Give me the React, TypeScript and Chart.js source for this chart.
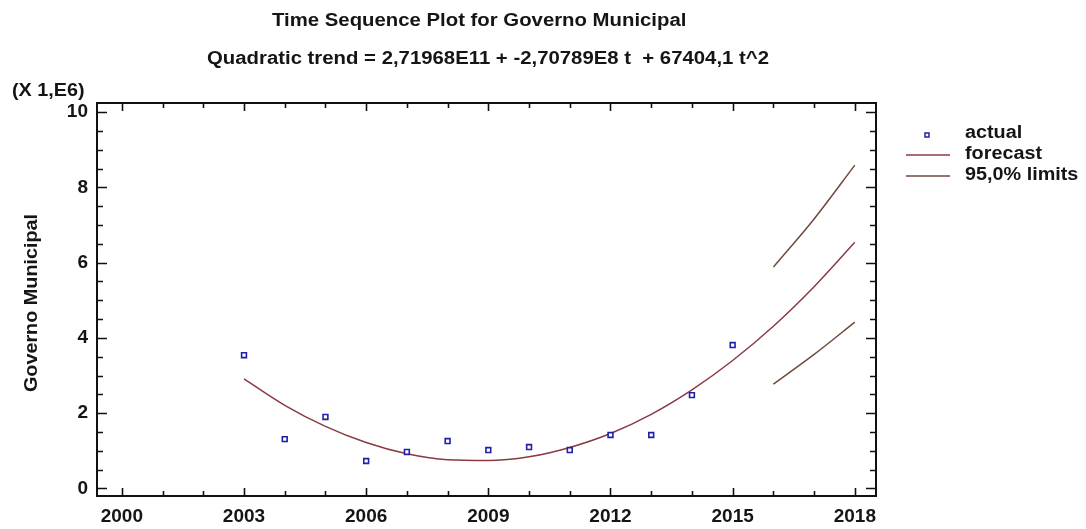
import React, { useEffect, useRef } from 'react';
import { Chart, registerables } from 'chart.js';

Chart.register(...registerables);

// ---- data (values in units of 1E6) ----
const actualYears = [2003, 2004, 2005, 2006, 2007, 2008, 2009, 2010, 2011, 2012, 2013, 2014, 2015];
const actualValues = [3.54, 1.31, 1.9, 0.73, 0.97, 1.26, 1.02, 1.1, 1.02, 1.42, 1.42, 2.48, 3.81];
const forecastYears = [2003, 2004, 2005, 2006, 2007, 2008, 2009, 2010, 2011, 2012, 2013, 2014, 2015, 2016, 2017, 2018];
const forecastValues = [2.91, 2.21, 1.65, 1.22, 0.92, 0.76, 0.74, 0.84, 1.09, 1.46, 1.97, 2.62, 3.4, 4.31, 5.36, 6.54];
const limitYears = [2016, 2017, 2018];
const upperLimit = [5.88, 7.16, 8.59];
const lowerLimit = [2.77, 3.56, 4.42];
const xTickLabels = [2000, 2003, 2006, 2009, 2012, 2015, 2018];
const yTickLabels = [0, 2, 4, 6, 8, 10];
const titleLines = [
  'Time Sequence Plot for Governo Municipal',
  'Quadratic trend = 2,71968E11 + -2,70789E8 t  + 67404,1 t^2',
];
const yAxisTitle = 'Governo Municipal';
const multiplierLabel = '(X 1,E6)';
const legendLabels = ['actual', 'forecast', '95,0% limits'];

const FONT = '"Liberation Sans", Arial, sans-serif';
const TEXT = '#151515';
const BLUE = '#1f1fa8';
const FORECAST_COLOR = '#8a3a44';
const LIMIT_COLOR = '#6f4a3c';

function stretchText(ctx: CanvasRenderingContext2D, text: string, x: number, y: number, sx: number, align: CanvasTextAlign) {
  ctx.save();
  ctx.translate(x, y);
  ctx.scale(sx, 1);
  ctx.textAlign = align;
  ctx.fillText(text, 0, 0);
  ctx.restore();
}

const decorPlugin = {
  id: 'decor',
  afterDraw(chart: any) {
    const { ctx, chartArea: a, scales } = chart;
    const xs = scales.x;
    const ys = scales.y;
    ctx.save();
    // frame
    ctx.strokeStyle = '#111';
    ctx.lineWidth = 2;
    ctx.strokeRect(a.left, a.top, a.right - a.left, a.bottom - a.top);
    // inward ticks
    ctx.lineWidth = 1.6;
    ctx.beginPath();
    const x0 = xTickLabels[0];
    const x1 = xTickLabels[xTickLabels.length - 1];
    for (let yr = x0; yr <= x1; yr++) {
      const px = Math.round(xs.getPixelForValue(yr)) + 0.5;
      const len = (yr - x0) % 3 === 0 ? 8 : 5;
      ctx.moveTo(px, a.bottom);
      ctx.lineTo(px, a.bottom - len);
      ctx.moveTo(px, a.top);
      ctx.lineTo(px, a.top + len);
    }
    const y0 = yTickLabels[0];
    const y1 = yTickLabels[yTickLabels.length - 1];
    for (let v = y0; v <= y1 + 1e-9; v += 0.5) {
      const py = Math.round(ys.getPixelForValue(v)) + 0.5;
      const major = Math.abs(v / 2 - Math.round(v / 2)) < 1e-9;
      const len = major ? 10 : 6;
      ctx.moveTo(a.left, py);
      ctx.lineTo(a.left + len, py);
      ctx.moveTo(a.right, py);
      ctx.lineTo(a.right - len, py);
    }
    ctx.stroke();

    // titles
    ctx.fillStyle = TEXT;
    ctx.textBaseline = 'middle';
    ctx.font = `bold 18px ${FONT}`;
    stretchText(ctx, titleLines[0], 272, 21, 1.13, 'left');
    stretchText(ctx, titleLines[1], 207, 59, 1.13, 'left');

    // multiplier
    stretchText(ctx, multiplierLabel, 12, 91, 1.1, 'left');

    // y axis title
    ctx.save();
    ctx.translate(32, 303);
    ctx.rotate(-Math.PI / 2);
    ctx.scale(1.1, 1);
    ctx.textAlign = 'center';
    ctx.fillText(yAxisTitle, 0, 0);
    ctx.restore();

    // legend
    const ly = [133, 154, 175];
    ctx.font = `bold 18px ${FONT}`;
    legendLabels.forEach((l, i) => stretchText(ctx, l, 965, ly[i], 1.1, 'left'));
    ctx.strokeStyle = BLUE;
    ctx.lineWidth = 1.5;
    ctx.strokeRect(925, ly[0], 4, 4);
    ctx.strokeStyle = FORECAST_COLOR;
    ctx.beginPath();
    ctx.moveTo(906, ly[1] + 1);
    ctx.lineTo(950, ly[1] + 1);
    ctx.stroke();
    ctx.strokeStyle = LIMIT_COLOR;
    ctx.beginPath();
    ctx.moveTo(906, ly[2] + 1);
    ctx.lineTo(950, ly[2] + 1);
    ctx.stroke();
    ctx.restore();
  },
};

export default function App() {
  const ref = useRef<HTMLCanvasElement | null>(null);
  useEffect(() => {
    document.body.style.margin = '0';
    const canvas = ref.current;
    if (!canvas) return;
    const pts = (xs: number[], ys: number[]) => xs.map((x, i) => ({ x, y: ys[i] }));
    const chart = new Chart(canvas, {
      type: 'line',
      data: {
        datasets: [
          {
            label: 'actual',
            data: pts(actualYears, actualValues),
            showLine: false,
            pointStyle: 'rect',
            pointRadius: 3.4,
            pointBorderWidth: 1.6,
            pointBorderColor: BLUE,
            pointBackgroundColor: '#ffffff',
          },
          {
            label: 'forecast',
            data: pts(forecastYears, forecastValues),
            borderColor: FORECAST_COLOR,
            borderWidth: 1.5,
            pointRadius: 0,
            cubicInterpolationMode: 'monotone',
          },
          {
            label: 'upper',
            data: pts(limitYears, upperLimit),
            borderColor: LIMIT_COLOR,
            borderWidth: 1.5,
            pointRadius: 0,
            cubicInterpolationMode: 'monotone',
          },
          {
            label: 'lower',
            data: pts(limitYears, lowerLimit),
            borderColor: LIMIT_COLOR,
            borderWidth: 1.5,
            pointRadius: 0,
            cubicInterpolationMode: 'monotone',
          },
        ],
      } as any,
      options: {
        animation: false,
        responsive: false,
        layout: { padding: { top: 103, right: 210, left: 0, bottom: 0 } },
        plugins: { legend: { display: false }, title: { display: false }, tooltip: { enabled: false } },
        scales: {
          x: {
            type: 'linear',
            min: 1999.39,
            max: 2018.52,
            grid: { display: false, drawTicks: false },
            border: { display: false },
            afterBuildTicks: (s: any) => {
              s.ticks = xTickLabels.map((v) => ({ value: v }));
            },
            afterFit: (s: any) => {
              s.height = 33;
            },
            ticks: {
              autoSkip: false,
              maxRotation: 0,
              padding: 9,
              color: TEXT,
              font: { family: FONT, size: 19, weight: 'bold' },
              callback: (v: any) => String(v),
            },
          },
          y: {
            type: 'linear',
            min: -0.2,
            max: 10.24,
            grid: { display: false, drawTicks: false },
            border: { display: false },
            afterBuildTicks: (s: any) => {
              s.ticks = yTickLabels.map((v) => ({ value: v }));
            },
            afterFit: (s: any) => {
              s.width = 97;
            },
            ticks: {
              padding: 9,
              color: TEXT,
              font: { family: FONT, size: 19, weight: 'bold' },
              callback: (v: any) => String(v),
            },
          },
        },
      } as any,
      plugins: [decorPlugin],
    });
    return () => chart.destroy();
  }, []);
  return (
    <div style={{ width: 1086, height: 529 }}>
      <canvas ref={ref} width={1086} height={529} style={{ display: 'block' }} />
    </div>
  );
}
